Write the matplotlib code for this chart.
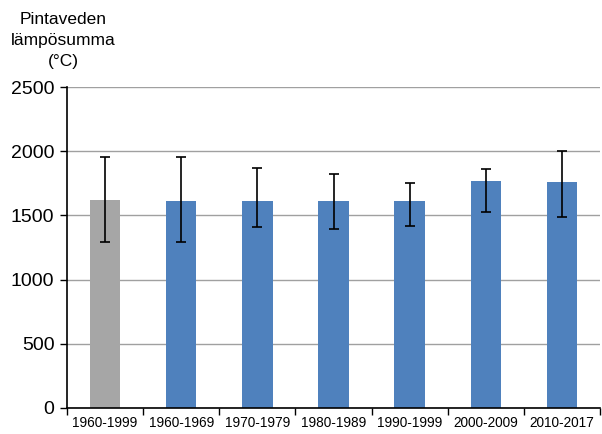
import numpy as np
import matplotlib.pyplot as plt

plt.rcParams['font.family'] = ['Liberation Sans', 'DejaVu Sans']

periods = ["1960-1999", "1960-1969", "1970-1979", "1980-1989",
           "1990-1999", "2000-2009", "2010-2017"]
heat_sum = [1620, 1615, 1615, 1615, 1615, 1768, 1760]
err_low = [1295, 1295, 1407, 1397, 1417, 1527, 1485]
err_high = [1957, 1957, 1869, 1822, 1755, 1859, 1999]
bar_colors = ["#A6A6A6"] + ["#4F81BD"] * 6

fig = plt.figure(figsize=(6.02, 4.34), dpi=100)
ax = fig.add_axes([67/602, 26/434, 533/602, 321/434])

x = np.arange(len(periods))
yerr = [np.array(heat_sum) - np.array(err_low), np.array(err_high) - np.array(heat_sum)]
ax.bar(x, heat_sum, width=0.4, color=bar_colors, zorder=2)
ax.errorbar(x, heat_sum, yerr=yerr, fmt='none', ecolor='black',
            elinewidth=1.2, capsize=3.5, capthick=1.2, zorder=3)

ax.set_ylim(0, 2500)
ax.set_yticks(np.arange(0, 2501, 500))
ax.set_xlim(-0.5, len(periods) - 0.5)
ax.yaxis.grid(True, color='#a0a0a0', linewidth=1.0, zorder=0)
ax.set_axisbelow(True)

ax.set_xticks(x)
ax.set_xticklabels(periods, fontsize=9.8)
ax.tick_params(axis='x', which='major', length=0, pad=6)
ax.set_xticks(np.arange(-0.5, len(periods) + 0.5, 1), minor=True)
ax.tick_params(axis='x', which='minor', length=5, width=1, color='black')
ax.tick_params(axis='y', length=5, width=1, labelsize=14, pad=4)

for side in ['top', 'right']:
    ax.spines[side].set_visible(False)
for side in ['left', 'bottom']:
    ax.spines[side].set_linewidth(1.2)

fig.text(63/602, 1 - 12/434, "Pintaveden\nlämpösumma\n(°C)", ha='center', va='top',
         fontsize=12.5, linespacing=1.5)

fig.savefig("out.png", dpi=100)
